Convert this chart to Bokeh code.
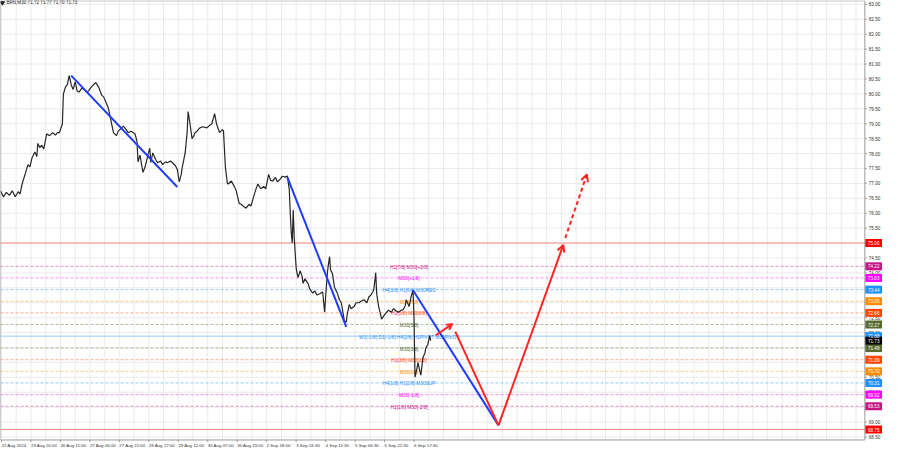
from bokeh.plotting import figure
from bokeh.models import Arrow, OpenHead, Range1d, ColumnDataSource
from bokeh.embed import file_html
from bokeh.resources import INLINE
from bokeh.core.properties import value

# ---------------- data ----------------
symbol_title = "BRN,M30  71.72 71.77 71.70 71.73"

bar_x = [0, 3, 6, 9, 12, 15, 18, 20, 22, 25, 28, 30, 32, 35, 37, 38, 40, 42, 44, 47,
         50, 53, 56, 58, 60, 62, 63, 64, 66, 68, 70, 72, 74, 76, 78, 80, 83, 85, 88, 90,
         93, 97, 100, 103, 105, 108, 110, 112, 115, 118, 120, 123, 125, 128, 130, 133, 137, 139, 140, 142,
         145, 147, 149, 150, 152, 153, 155, 158, 160, 163, 165, 168, 170, 173, 175, 178, 180, 182, 184, 185,
         188, 190, 191, 193, 195, 197, 198, 200, 203, 206, 210, 213, 215, 218, 220, 223, 226, 227, 229, 231,
         232, 235, 238, 240, 243, 245, 247, 250, 253, 255, 258, 260, 262, 265, 268, 270, 273, 275, 277, 280,
         282, 285, 287, 290, 292, 294, 295, 296, 297, 298, 299, 301, 302, 303, 305, 307, 308, 310, 313, 315,
         318, 320, 322, 325, 328, 330, 331, 333, 335, 336, 338, 340, 343, 345, 347, 349, 350, 352, 353, 355,
         357, 360, 362, 365, 367, 370, 373, 375, 377, 380, 382, 383, 385, 387, 388, 390, 393, 395, 398, 400,
         403, 405, 408, 410, 412, 413, 415, 416, 418, 420, 421, 422, 424, 425, 427, 428, 430, 432, 433, 435,
         436, 437, 438]
close = [76.75, 76.55, 76.70, 76.60, 76.75, 76.55, 76.72, 76.65, 76.98, 77.30, 77.63, 77.55, 77.85, 78.05, 77.90, 78.34, 78.20, 78.28, 78.15, 78.66,
         78.60, 78.70, 78.62, 78.70, 78.70, 78.90, 78.99, 79.99, 80.22, 80.31, 80.61, 80.30, 80.15, 80.40, 80.10, 80.06, 80.20, 80.15, 80.05, 80.12,
         80.25, 80.38, 80.22, 79.96, 79.90, 79.67, 79.50, 79.18, 78.70, 78.60, 78.76, 78.85, 78.92, 78.80, 78.70, 78.75, 78.66, 78.40, 77.72, 77.95,
         77.37, 77.53, 77.80, 77.95, 78.18, 77.70, 78.02, 77.80, 77.69, 77.75, 77.63, 77.72, 77.69, 77.75, 77.69, 77.60, 77.47, 77.05, 77.30, 77.53,
         78.02, 78.70, 79.41, 78.99, 78.50, 78.60, 78.70, 78.75, 78.86, 78.90, 78.86, 78.95, 78.99, 79.34, 78.99, 78.70, 78.80, 78.76, 77.53, 77.00,
         76.98, 77.08, 76.90, 76.75, 76.33, 76.30, 76.24, 76.17, 76.30, 76.24, 76.59, 76.80, 76.98, 76.82, 76.90, 76.82, 77.30, 77.10, 77.08, 77.20,
         77.05, 77.15, 77.24, 77.21, 77.25, 76.80, 76.01, 75.36, 75.00, 76.11, 75.20, 74.17, 73.97, 73.84, 74.07, 73.90, 73.65, 73.80, 73.65, 73.45,
         73.32, 73.40, 73.26, 73.30, 73.36, 72.68, 73.20, 74.07, 74.55, 74.10, 73.97, 73.52, 73.32, 73.10, 73.00, 72.60, 72.40, 72.35, 72.60, 72.94,
         72.80, 72.87, 73.00, 73.00, 73.05, 73.10, 73.00, 73.19, 73.25, 73.42, 74.00, 73.30, 72.87, 72.60, 72.45, 72.55, 72.68, 72.75, 72.68, 72.80,
         72.72, 72.68, 72.75, 72.77, 72.90, 73.10, 72.95, 72.87, 73.20, 73.42, 72.50, 70.51, 70.80, 70.99, 70.70, 70.57, 71.16, 71.30, 71.48, 71.60,
         71.74, 71.90, 71.73]
last_price = 71.73

# time-axis labels
time_tick_pos = [1, 31, 61, 91, 121, 151, 181, 211, 241, 271, 301, 331, 361, 391, 421]
time_tick_labels = ["22 Aug 2024", "23 Aug 16:00", "26 Aug 11:00", "27 Aug 06:00", "27 Aug 22:00",
                    "28 Aug 17:00", "29 Aug 12:00", "30 Aug 07:00", "30 Aug 23:00", "2 Sep 18:00",
                    "3 Sep 16:30", "4 Sep 11:30", "5 Sep 06:30", "5 Sep 22:30", "6 Sep 17:30"]

price_ticks = [68.5 + 0.5 * i for i in range(30)]

# Murrey-type levels
level_prices = [75.00, 74.22, 73.83, 73.44, 73.05, 72.66, 72.27, 71.88, 71.48, 71.09, 70.70, 70.31, 69.92, 69.53, 68.75]
level_names = ["", "H1[7/8] M30[+2/8]", "M30[+1/8]", "H4[3/8] H1[6/8] M30RES", "M30[7/8]",
               "H1[5/8] M30[6/8]", "M30[5/8]", "W1[-1/8] D1[-1/8] H4[2/8] H1PIVOT M30PIVOT", "M30[3/8]",
               "H1[3/8] M30[2/8]", "M30[1/8]", "H4[1/8] H1[2/8] M30SUP", "M30[-1/8]", "H1[1/8] M30[-2/8]", ""]
level_colors = ["#ff0000", "#c71585", "#ff00ff", "#1e90ff", "#ff8c00", "#ff4500", "#556b2f", "#1e90ff",
                "#556b2f", "#ff4500", "#ff8c00", "#1e90ff", "#ff00ff", "#c71585", "#ff0000"]
level_solid = [True, False, False, False, False, False, False, True, False, False, False, False, False, False, True]

# blue trend lines
trend_x0 = [72, 292, 420]
trend_p0 = [80.61, 77.21, 73.42]
trend_x1 = [180, 352, 507]
trend_p1 = [76.88, 72.19, 68.89]

# red forecast path
fc_small_x = [443, 460]
fc_small_p = [71.90, 72.29]
fc_down_x = [463, 507]
fc_down_p = [72.03, 68.89]
fc_up_x = [507, 573]
fc_up_p = [68.89, 74.94]
fc_dash_x = [575, 597]
fc_dash_p = [75.17, 77.30]

# ---------------- layout constants ----------------
FONT = "Liberation Sans"
X_END = 880          # right edge of price area (bar units)
P_TOP = 83.13        # top of price area
P_BOT = 68.40        # bottom of price area
AXIS_GREY = "#9a9a9a"
GRID = "#ebebeb"

p = figure(width=884, height=452, output_backend="svg", toolbar_location=None,
           x_range=Range1d(0, 900), y_range=Range1d(67.98, P_TOP),
           x_axis_location=None, y_axis_location=None,
           min_border_left=0, min_border_top=0, min_border_right=0, min_border_bottom=0,
           background_fill_color="white", border_fill_color="white")
p.outline_line_color = None
p.grid.visible = False

# grid
grid_x = [1 + 15 * i for i in range(59)]
p.segment(x0=grid_x, y0=[P_BOT] * len(grid_x), x1=grid_x, y1=[P_TOP] * len(grid_x),
          line_color=GRID, line_width=1)
p.segment(x0=[0] * len(price_ticks), y0=price_ticks, x1=[X_END] * len(price_ticks), y1=price_ticks,
          line_color=GRID, line_width=1)

# level lines
for lp, col, solid in zip(level_prices, level_colors, level_solid):
    p.segment(x0=[0], y0=[lp], x1=[X_END], y1=[lp], line_color=col, line_alpha=0.45,
              line_width=1, line_dash="solid" if solid else "3 2")

# level names
src_lv = ColumnDataSource(dict(x=[416] * len(level_prices), y=level_prices,
                               t=level_names, c=level_colors))
p.text(x="x", y="y", text="t", text_color="c", source=src_lv,
       text_font=value(FONT), text_font_size="4.8px", text_align="center",
       text_baseline="middle", y_offset=1)

# price line
p.line(bar_x, close, line_color="#262626", line_width=1.2)

# blue trend lines
p.segment(x0=trend_x0, y0=trend_p0, x1=trend_x1, y1=trend_p1,
          line_color="#1f3cff", line_width=2)

# red forecast
RED = "#ff2424"
p.add_layout(Arrow(end=OpenHead(size=6, line_color=RED, line_width=2),
                   x_start=fc_small_x[0], y_start=fc_small_p[0],
                   x_end=fc_small_x[1], y_end=fc_small_p[1],
                   line_color=RED, line_width=2))
p.line(fc_down_x, fc_down_p, line_color=RED, line_width=2)
p.add_layout(Arrow(end=OpenHead(size=7, line_color=RED, line_width=2),
                   x_start=fc_up_x[0], y_start=fc_up_p[0],
                   x_end=fc_up_x[1], y_end=fc_up_p[1],
                   line_color=RED, line_width=2))
p.add_layout(Arrow(end=OpenHead(size=7, line_color=RED, line_width=2),
                   x_start=fc_dash_x[0], y_start=fc_dash_p[0],
                   x_end=fc_dash_x[1], y_end=fc_dash_p[1],
                   line_color=RED, line_width=2, line_dash="4 3"))

# frame border
p.line([0, 0, X_END, X_END], [P_TOP, P_BOT, P_BOT, P_TOP], line_color=AXIS_GREY, line_width=1)
p.line([0, X_END], [P_TOP, P_TOP], line_color="#c8c8c8", line_width=2)

# price axis (right)
p.segment(x0=[X_END] * len(price_ticks), y0=price_ticks, x1=[X_END + 2] * len(price_ticks), y1=price_ticks,
          line_color=AXIS_GREY)
p.text(x=[X_END + 4] * len(price_ticks), y=price_ticks, text=[f"{t:.2f}" for t in price_ticks],
       text_color="#333333", text_font=value(FONT), text_font_size="4.6px",
       text_align="left", text_baseline="middle")

# time axis (bottom)
p.segment(x0=time_tick_pos, y0=[P_BOT] * len(time_tick_pos), x1=time_tick_pos,
          y1=[P_BOT - 0.07] * len(time_tick_pos), line_color=AXIS_GREY)
p.text(x=time_tick_pos, y=[P_BOT - 0.2] * len(time_tick_pos), text=time_tick_labels,
       text_color="#333333", text_font=value(FONT), text_font_size="4.4px",
       text_align="left", text_baseline="middle")

# price boxes on the axis
box_prices = level_prices + [last_price]
box_colors = level_colors + ["#000000"]
box_x = [X_END + 9] * len(box_prices)
p.rect(x=box_x, y=box_prices, width=17, height=8, height_units="screen",
       fill_color=box_colors, line_color=None)
p.text(x=box_x, y=box_prices, text=[f"{b:.2f}" for b in box_prices], text_color="white",
       text_font=value(FONT), text_font_size="4.6px", text_align="center", text_baseline="middle")

# title
p.text(x=[6], y=[P_TOP - 0.08], text=[symbol_title], text_color="#222222",
       text_font=value(FONT), text_font_size="4.6px", text_align="left", text_baseline="middle")
p.scatter(x=[2], y=[P_TOP - 0.08], marker="inverted_triangle", size=4, color="#222222")

open("out.html", "w").write(file_html(p, INLINE))
